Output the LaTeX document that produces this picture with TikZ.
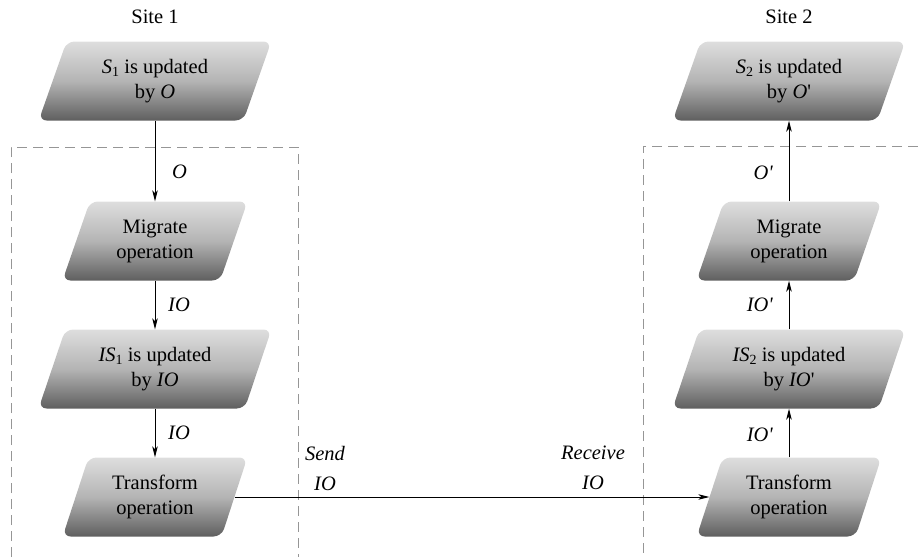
\documentclass[tikz,border=0pt]{standalone}
\usepackage{fontspec}
\setmainfont{Liberation Serif}
\usetikzlibrary{shapes.geometric,arrows.meta}
\newcommand\mysub[1]{\raisebox{-0.35ex}{\fontsize{14}{14}\selectfont #1}}
\newcommand\pr{\textquotesingle}
\definecolor{boxtop}{RGB}{222,222,222}
\definecolor{boxmid}{RGB}{180,180,180}
\definecolor{boxbot}{RGB}{95,95,95}
\definecolor{dashgray}{RGB}{150,150,150}
\begin{document}
\begin{tikzpicture}[x=1pt,y=-1pt,
  font=\fontsize{20.5}{25}\selectfont,
  pbox/.style={trapezium, trapezium left angle=70, trapezium right angle=110,
    trapezium stretches=true, minimum height=79pt, align=center, inner sep=2pt,
    rounded corners=8pt, top color=boxtop, bottom color=boxbot, middle color=boxmid},
  bigbox/.style={pbox, minimum width=233pt},
  smallbox/.style={pbox, minimum width=185pt},
  flow/.style={-{Stealth[length=11pt,width=5.5pt,inset=3pt]}, line width=1pt},
  lbl/.style={font=\fontsize{20.5}{25}\selectfont\itshape, inner sep=0pt},
  site/.style={dashgray, line width=0.8pt, dash pattern=on 10pt off 6pt}]
\useasboundingbox (0,0) rectangle (918,557);

% site regions
\draw[site] (11,557) -- (11,147) -- (298,147) -- (298,557);
\draw[site] (918,146) -- (643,146) -- (643,557);

% titles
\node (t1) at (155,17) {Site 1};
\node (t2) at (789,17) {Site 2};

% left column
\node[bigbox]   (s1) at (155,81)  {\textit{S}\mysub{1} is updated\\by \textit{O}};
\node[smallbox] (m1) at (155,241) {Migrate\\operation};
\node[bigbox]   (i1) at (155,369) {\textit{IS}\mysub{1} is updated\\by \textit{IO}};
\node[smallbox] (x1) at (155,497) {Transform\\operation};

% right column
\node[bigbox]   (s2) at (789,81)  {\textit{S}\mysub{2} is updated\\by \textit{O}\pr};
\node[smallbox] (m2) at (789,241) {Migrate\\operation};
\node[bigbox]   (i2) at (789,369) {\textit{IS}\mysub{2} is updated\\by \textit{IO}\pr};
\node[smallbox] (x2) at (789,497) {Transform\\operation};

% connectors
\draw[flow] (s1.center |- s1.south) -- (m1.center |- m1.north);
\draw[flow] (m1.center |- m1.south) -- (i1.center |- i1.north);
\draw[flow] (i1.center |- i1.south) -- (x1.center |- x1.north);
\draw[flow] (x1.east) -- (x2.west);
\draw[flow] (x2.center |- x2.north) -- (i2.center |- i2.south);
\draw[flow] (i2.center |- i2.north) -- (m2.center |- m2.south);
\draw[flow] (m2.center |- m2.north) -- (s2.center |- s2.south);

% labels
\node[lbl, anchor=west] (lo)  at (172,172) {O};
\node[lbl, anchor=west] (lio1) at (168,305) {IO};
\node[lbl, anchor=west] (lio2) at (168,433) {IO};
\node[lbl, anchor=east] (ro)  at (773,173) {O\pr};
\node[lbl, anchor=east] (rio1) at (773,305) {IO\pr};
\node[lbl, anchor=east] (rio2) at (773,435) {IO\pr};
\node[lbl, align=center, font=\fontsize{20.5}{30}\selectfont\itshape] (send) at (325,468) {Send\\IO};
\node[lbl, align=center, font=\fontsize{20.5}{30}\selectfont\itshape] (recv) at (593,468) {Receive\\IO};
\end{tikzpicture}
\end{document}
